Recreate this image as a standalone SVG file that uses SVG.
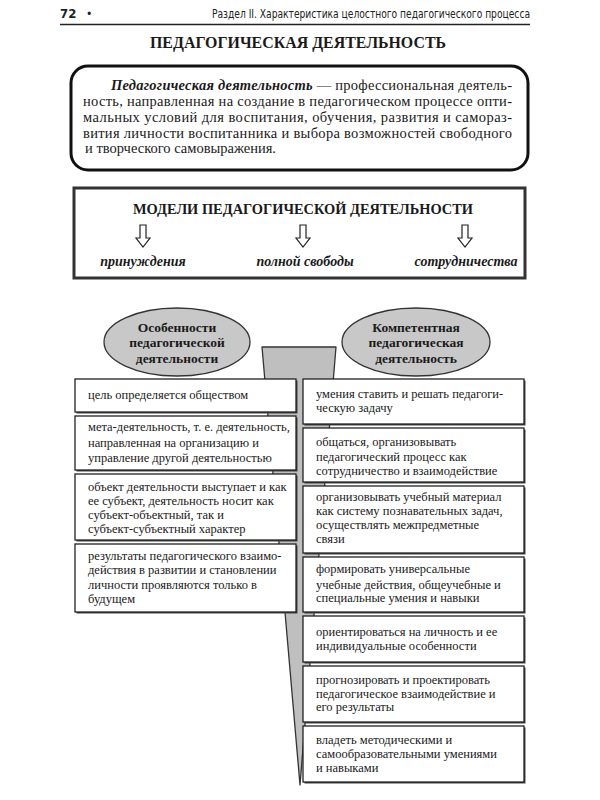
<svg xmlns="http://www.w3.org/2000/svg" width="600" height="800" viewBox="0 0 600 800">
<rect width="600" height="800" fill="#fff"/>
<g id="header" fill="#222">
<text x="60" y="18" font-family="DejaVu Sans Condensed" font-size="13" font-weight="bold">72</text>
<text x="86" y="18" font-family="DejaVu Sans Condensed" font-size="12">•</text>
<text x="530" y="18" font-family="DejaVu Sans Condensed" font-size="12" text-anchor="end" textLength="318" lengthAdjust="spacingAndGlyphs">Раздел II. Характеристика целостного педагогического процесса</text>
<line x1="60" y1="24.5" x2="530" y2="24.5" stroke="#222" stroke-width="1.5"/>
</g>
<text x="298" y="48" font-family="Times New Roman, serif" font-size="17" font-weight="bold" fill="#1a1a1a" text-anchor="middle" textLength="296" lengthAdjust="spacingAndGlyphs">ПЕДАГОГИЧЕСКАЯ ДЕЯТЕЛЬНОСТЬ</text>
<g id="definition" fill="#1a1a1a">
<rect x="71" y="66" width="457" height="104" rx="17" fill="#fff" stroke="#111" stroke-width="3"/>
<text x="111" y="90" font-family="Liberation Serif" font-size="14.5" textLength="401" lengthAdjust="spacing"><tspan font-weight="bold" font-style="italic">Педагогическая деятельность</tspan> — профессиональная деятель-</text>
<text x="83" y="106" font-family="Liberation Serif" font-size="14.5" textLength="429" lengthAdjust="spacing">ность, направленная на создание в педагогическом процессе опти-</text>
<text x="83" y="122" font-family="Liberation Serif" font-size="14.5" textLength="429" lengthAdjust="spacing">мальных условий для воспитания, обучения, развития и самораз-</text>
<text x="83" y="138" font-family="Liberation Serif" font-size="14.5" textLength="429" lengthAdjust="spacing">вития личности воспитанника и выбора возможностей свободного</text>
<text x="85" y="153" font-family="Liberation Serif" font-size="14.5">и творческого самовыражения.</text>
</g>
<g id="models" fill="#1a1a1a">
<rect x="74" y="188" width="451" height="90" fill="#fff" stroke="#333" stroke-width="3"/>
<text x="303" y="214" font-family="serif" font-size="15.5" font-weight="bold" text-anchor="middle" textLength="340" lengthAdjust="spacingAndGlyphs">МОДЕЛИ ПЕДАГОГИЧЕСКОЙ ДЕЯТЕЛЬНОСТИ</text>
<g fill="#fff" stroke="#222" stroke-width="1.2">
<path d="M140 225 H146 V238 H150 L143 247 L136 238 H140 Z"/>
<path d="M300 225 H306 V238 H310 L303 247 L296 238 H300 Z"/>
<path d="M462 225 H468 V238 H472 L465 247 L458 238 H462 Z"/>
</g>
<text x="143" y="266" font-family="serif" font-size="14" font-weight="bold" font-style="italic" text-anchor="middle">принуждения</text>
<text x="305" y="266" font-family="serif" font-size="14" font-weight="bold" font-style="italic" text-anchor="middle">полной свободы</text>
<text x="466" y="266" font-family="serif" font-size="14" font-weight="bold" font-style="italic" text-anchor="middle">сотрудничества</text>
</g>
<g id="connectors">
<path d="M262 347 H336 L300 785 Z" fill="#bfbfbf" stroke="#333" stroke-width="1.3" stroke-linejoin="round"/>
</g>
<g id="ellipse-left" fill="#1a1a1a">
<ellipse cx="177" cy="342" rx="73" ry="34" fill="#c8c8c8" stroke="#333" stroke-width="1.3"/>
<text transform="translate(177 332) scale(0.5)" font-family="Liberation Serif" font-size="27" font-weight="bold" text-anchor="middle">Особенности</text>
<text transform="translate(177 347) scale(0.5)" font-family="Liberation Serif" font-size="27" font-weight="bold" text-anchor="middle">педагогической</text>
<text transform="translate(177 363) scale(0.5)" font-family="Liberation Serif" font-size="27" font-weight="bold" text-anchor="middle">деятельности</text>
</g>
<g id="ellipse-right" fill="#1a1a1a">
<ellipse cx="416" cy="342" rx="74" ry="34" fill="#c8c8c8" stroke="#333" stroke-width="1.3"/>
<text transform="translate(416 332) scale(0.5)" font-family="Liberation Serif" font-size="27" font-weight="bold" text-anchor="middle">Компетентная</text>
<text transform="translate(416 347) scale(0.5)" font-family="Liberation Serif" font-size="27" font-weight="bold" text-anchor="middle">педагогическая</text>
<text transform="translate(416 363) scale(0.5)" font-family="Liberation Serif" font-size="27" font-weight="bold" text-anchor="middle">деятельность</text>
</g>
<g id="left-1" fill="#1a1a1a" font-size="12.5">
<rect x="76.5" y="380.5" width="221" height="33" fill="#444"/>
<rect x="75" y="379" width="221" height="33" fill="#fff" stroke="#222" stroke-width="1.3"/>
<text x="88" y="399" font-family="Liberation Serif">цель определяется обществом</text>
</g>
<g id="left-2" fill="#1a1a1a" font-size="12.5">
<rect x="76.5" y="417.5" width="221" height="54" fill="#444"/>
<rect x="75" y="416" width="221" height="54" fill="#fff" stroke="#222" stroke-width="1.3"/>
<text x="88" y="431" font-family="Liberation Serif">мета-деятельность, т. е. деятельность,</text>
<text x="88" y="447" font-family="Liberation Serif">направленная на организацию и</text>
<text x="88" y="462" font-family="Liberation Serif">управление другой деятельностью</text>
</g>
<g id="left-3" fill="#1a1a1a" font-size="12.5">
<rect x="76.5" y="475.5" width="221" height="66" fill="#444"/>
<rect x="75" y="474" width="221" height="66" fill="#fff" stroke="#222" stroke-width="1.3"/>
<text x="88" y="491" font-family="Liberation Serif">объект деятельности выступает и как</text>
<text x="88" y="505" font-family="Liberation Serif">ее субъект,  деятельность носит как</text>
<text x="88" y="519" font-family="Liberation Serif">субъект-объектный, так и</text>
<text x="88" y="533" font-family="Liberation Serif">субъект-субъектный характер</text>
</g>
<g id="left-4" fill="#1a1a1a" font-size="12.5">
<rect x="76.5" y="545.5" width="221" height="68" fill="#444"/>
<rect x="75" y="544" width="221" height="68" fill="#fff" stroke="#222" stroke-width="1.3"/>
<text x="88" y="560" font-family="Liberation Serif">результаты педагогического взаимо-</text>
<text x="88" y="574" font-family="Liberation Serif">действия в развитии и становлении</text>
<text x="88" y="589" font-family="Liberation Serif">личности проявляются только в</text>
<text x="88" y="603" font-family="Liberation Serif">будущем</text>
</g>
<g id="right-1" fill="#1a1a1a" font-size="12.5">
<rect x="304.5" y="380.5" width="221" height="45" fill="#444"/>
<rect x="303" y="379" width="221" height="45" fill="#fff" stroke="#222" stroke-width="1.3"/>
<text x="316" y="398" font-family="Liberation Serif, Times New Roman, serif">умения ставить и решать педагоги-</text>
<text x="316" y="412" font-family="Liberation Serif, Times New Roman, serif">ческую задачу</text>
</g>
<g id="right-2" fill="#1a1a1a" font-size="12.5">
<rect x="304.5" y="429.5" width="221" height="54" fill="#444"/>
<rect x="303" y="428" width="221" height="54" fill="#fff" stroke="#222" stroke-width="1.3"/>
<text x="316" y="446" font-family="Liberation Serif, Times New Roman, serif">общаться, организовывать</text>
<text x="316" y="461" font-family="Liberation Serif, Times New Roman, serif">педагогический процесс как</text>
<text x="316" y="475" font-family="Liberation Serif, Times New Roman, serif">сотрудничество и взаимодействие</text>
</g>
<g id="right-3" fill="#1a1a1a" font-size="12.5">
<rect x="304.5" y="487.5" width="221" height="67" fill="#444"/>
<rect x="303" y="486" width="221" height="67" fill="#fff" stroke="#222" stroke-width="1.3"/>
<text x="316" y="501" font-family="Liberation Serif, Times New Roman, serif">организовывать учебный материал</text>
<text x="316" y="515" font-family="Liberation Serif, Times New Roman, serif">как систему познавательных задач,</text>
<text x="316" y="529" font-family="Liberation Serif, Times New Roman, serif">осуществлять межпредметные</text>
<text x="316" y="543" font-family="Liberation Serif, Times New Roman, serif">связи</text>
</g>
<g id="right-4" fill="#1a1a1a" font-size="12.5">
<rect x="304.5" y="558.5" width="221" height="55" fill="#444"/>
<rect x="303" y="557" width="221" height="55" fill="#fff" stroke="#222" stroke-width="1.3"/>
<text x="316" y="573" font-family="Liberation Serif, Times New Roman, serif">формировать универсальные</text>
<text x="316" y="589" font-family="Liberation Serif, Times New Roman, serif">учебные действия, общеучебные  и</text>
<text x="316" y="602" font-family="Liberation Serif, Times New Roman, serif">специальные умения и навыки</text>
</g>
<g id="right-5" fill="#1a1a1a" font-size="12.5">
<rect x="304.5" y="617.5" width="221" height="46" fill="#444"/>
<rect x="303" y="616" width="221" height="46" fill="#fff" stroke="#222" stroke-width="1.3"/>
<text x="316" y="636" font-family="Liberation Serif, Times New Roman, serif">ориентироваться на личность и ее</text>
<text x="316" y="650" font-family="Liberation Serif, Times New Roman, serif">индивидуальные особенности</text>
</g>
<g id="right-6" fill="#1a1a1a" font-size="12.5">
<rect x="304.5" y="667.5" width="221" height="56" fill="#444"/>
<rect x="303" y="666" width="221" height="56" fill="#fff" stroke="#222" stroke-width="1.3"/>
<text x="316" y="684" font-family="Liberation Serif, Times New Roman, serif">прогнозировать и проектировать</text>
<text x="316" y="698" font-family="Liberation Serif, Times New Roman, serif">педагогическое взаимодействие и</text>
<text x="316" y="711" font-family="Liberation Serif, Times New Roman, serif">его результаты</text>
</g>
<g id="right-7" fill="#1a1a1a" font-size="12.5">
<rect x="304.5" y="727.5" width="221" height="56" fill="#444"/>
<rect x="303" y="726" width="221" height="56" fill="#fff" stroke="#222" stroke-width="1.3"/>
<text x="316" y="744" font-family="Liberation Serif, Times New Roman, serif">владеть методическими и</text>
<text x="316" y="758" font-family="Liberation Serif, Times New Roman, serif">самообразовательными умениями</text>
<text x="316" y="772" font-family="Liberation Serif, Times New Roman, serif">и навыками</text>
</g>
</svg>
